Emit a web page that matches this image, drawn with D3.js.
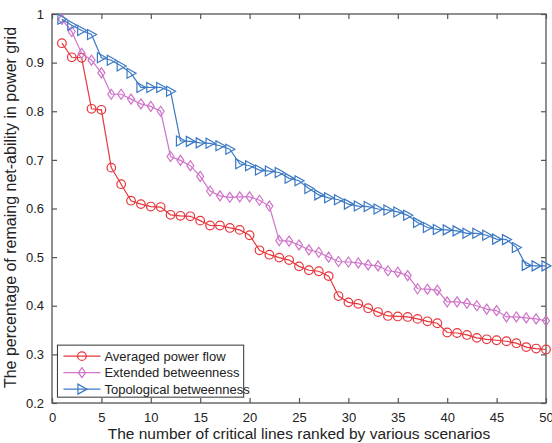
<!DOCTYPE html>
<meta charset="utf-8">
<head>
  <title>net-ability chart</title>
</head>
<script src="https://d3js.org/d3.v7.min.js"></script>
<style>
  body { margin: 0; background: #fff; }
  text { font-family: "Liberation Sans", Arial, sans-serif; fill: #222; }
</style>
<div id="my_dataviz"></div>
<script>

// x positions: number of removed critical lines
var xValues = d3.range(1, 51);

// Averaged power flow (red circles)
var powerFlow = [0.94, 0.911, 0.91, 0.805, 0.803, 0.684, 0.65, 0.616, 0.609, 0.604,
  0.603, 0.587, 0.585, 0.584, 0.575, 0.565, 0.565, 0.56, 0.556, 0.545,
  0.514, 0.505, 0.499, 0.494, 0.481, 0.473, 0.471, 0.461, 0.42, 0.407,
  0.404, 0.395, 0.387, 0.379, 0.378, 0.377, 0.373, 0.368, 0.364, 0.345,
  0.344, 0.34, 0.334, 0.331, 0.329, 0.327, 0.323, 0.315, 0.312, 0.31];

// Extended betweenness (pink diamonds)
var extBetween = [0.989, 0.964, 0.919, 0.905, 0.879, 0.835, 0.835, 0.825, 0.815, 0.81,
  0.80, 0.707, 0.699, 0.688, 0.666, 0.636, 0.626, 0.623, 0.624, 0.624,
  0.617, 0.605, 0.534, 0.533, 0.525, 0.515, 0.51, 0.50, 0.491, 0.49,
  0.488, 0.484, 0.482, 0.472, 0.469, 0.462, 0.435, 0.434, 0.432, 0.408,
  0.408, 0.405, 0.40, 0.393, 0.39, 0.377, 0.377, 0.375, 0.373, 0.369];

// Topological betweenness (blue triangles)
var topoBetween = [0.989, 0.977, 0.966, 0.958, 0.91, 0.905, 0.893, 0.878, 0.849, 0.849,
  0.849, 0.841, 0.739, 0.738, 0.735, 0.734, 0.729, 0.722, 0.692, 0.688,
  0.679, 0.677, 0.674, 0.662, 0.657, 0.641, 0.628, 0.622, 0.618, 0.609,
  0.605, 0.604, 0.599, 0.597, 0.593, 0.586, 0.571, 0.561, 0.557, 0.556,
  0.554, 0.549, 0.549, 0.545, 0.537, 0.536, 0.52, 0.483, 0.482, 0.482];

var seriesNames = ["Averaged power flow", "Extended betweenness", "Topological betweenness"];
var xTicks = d3.range(0, 51, 5);
var yTicks = [0.2, 0.3, 0.4, 0.5, 0.6, 0.7, 0.8, 0.9, 1];

var series = [
  {name: seriesNames[0], values: powerFlow, color: "#e6373d", marker: "circle"},
  {name: seriesNames[1], values: extBetween, color: "#cf74c9", marker: "diamond"},
  {name: seriesNames[2], values: topoBetween, color: "#3b79c4", marker: "triangle"}
];

// set the dimensions and margins of the graph
var margin = {top: 14, right: 6, bottom: 40, left: 52},
    width = 552 - margin.left - margin.right,
    height = 443 - margin.top - margin.bottom;

var svg = d3.select("#my_dataviz")
  .append("svg")
    .attr("width", 552)
    .attr("height", 443)
  .append("g")
    .attr("transform", "translate(" + margin.left + "," + margin.top + ")");

var x = d3.scaleLinear().domain([0, 50]).range([0, width]);
var y = d3.scaleLinear().domain([0.2, 1]).range([height, 0]);

var axisColor = "#555";

// box + inward ticks on all four sides (matlab style)
svg.append("rect")
  .attr("width", width).attr("height", height)
  .attr("fill", "none").attr("stroke", axisColor).attr("stroke-width", 1.3);

var fmtY = function(d){ return d === 1 ? "1" : d.toFixed(1); };

svg.append("g")
  .attr("transform", "translate(0," + height + ")")
  .call(d3.axisBottom(x).tickValues(xTicks).tickSizeInner(-5).tickSizeOuter(0).tickPadding(10));
svg.append("g")
  .call(d3.axisLeft(y).tickValues(yTicks).tickFormat(fmtY).tickSizeInner(-5).tickSizeOuter(0).tickPadding(8));
svg.append("g")
  .call(d3.axisTop(x).tickValues(xTicks).tickSizeInner(-5).tickSizeOuter(0).tickFormat(""));
svg.append("g")
  .attr("transform", "translate(" + width + ",0)")
  .call(d3.axisRight(y).tickValues(yTicks).tickSizeInner(-5).tickSizeOuter(0).tickFormat(""));

svg.selectAll(".domain").remove();
svg.selectAll(".tick line").attr("stroke", axisColor).attr("stroke-width", 1.2);
svg.selectAll(".tick text").style("font-size", "13px").attr("fill", "#333");

// axis titles
svg.append("text")
  .attr("text-anchor", "middle")
  .attr("x", width / 2 + 0)
  .attr("y", height + 36)
  .style("font-size", "15.5px")
  .text("The number of critical lines ranked by various scenarios");

svg.append("text")
  .attr("text-anchor", "middle")
  .attr("transform", "translate(-36," + (height / 2 - 1) + ") rotate(-90)")
  .style("font-size", "16px")
  .text("The percentage of remaing net-ability in power grid");

// marker shapes
function markerPath(type, cx, cy) {
  if (type === "diamond") {
    return "M" + cx + "," + (cy - 5) + "L" + (cx + 3.5) + "," + cy + "L" + cx + "," + (cy + 5) + "L" + (cx - 3.5) + "," + cy + "Z";
  }
  return "M" + (cx - 4) + "," + (cy - 5) + "L" + (cx + 5) + "," + cy + "L" + (cx - 4) + "," + (cy + 5) + "Z";
}

function drawMarker(g, type, cx, cy, color) {
  if (type === "circle") {
    g.append("circle").attr("cx", cx).attr("cy", cy).attr("r", 4.3)
      .attr("fill", "none").attr("stroke", color).attr("stroke-width", 1.2);
  } else {
    g.append("path").attr("d", markerPath(type, cx, cy))
      .attr("fill", "none").attr("stroke", color).attr("stroke-width", 1.2);
  }
}

var line = d3.line()
  .x(function(d, i){ return x(xValues[i]); })
  .y(function(d){ return y(d); });

series.forEach(function(s){
  svg.append("path")
    .datum(s.values)
    .attr("d", line)
    .attr("fill", "none")
    .attr("stroke", s.color)
    .attr("stroke-width", 1.2);
  var g = svg.append("g");
  s.values.forEach(function(v, i){
    drawMarker(g, s.marker, x(xValues[i]), y(v), s.color);
  });
});

// legend box
var lx = x(0.55), ly = y(0.319), lw = x(19.4) - x(0.55), lh = y(0.212) - y(0.319);
var legend = svg.append("g");
legend.append("rect")
  .attr("x", lx).attr("y", ly).attr("width", lw).attr("height", lh)
  .attr("fill", "#fff").attr("stroke", "#333").attr("stroke-width", 1);

series.forEach(function(s, i){
  var cy = ly + 11 + i * 16.5;
  legend.append("line")
    .attr("x1", lx + 6).attr("x2", lx + 43)
    .attr("y1", cy).attr("y2", cy)
    .attr("stroke", s.color).attr("stroke-width", 1.2);
  drawMarker(legend, s.marker, lx + 24.5, cy, s.color);
  legend.append("text")
    .attr("x", lx + 47)
    .attr("y", cy)
    .attr("dy", "0.35em")
    .style("font-size", "13px")
    .text(s.name);
});

</script>
